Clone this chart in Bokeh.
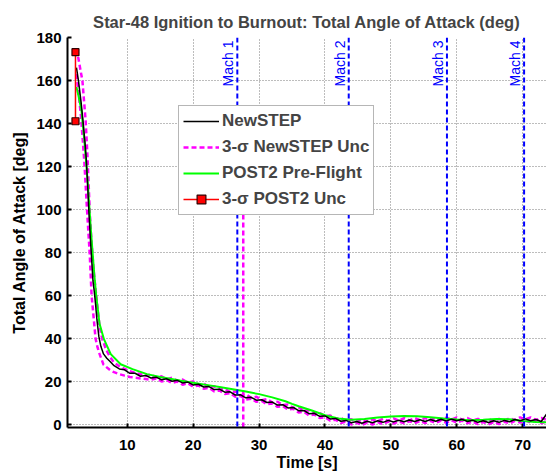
import math
from bokeh.plotting import figure
from bokeh.models import Range1d, Label, Legend, LegendItem, FixedTicker, Span
from bokeh.embed import file_html
from bokeh.resources import INLINE

FONT = "Liberation Sans"

# ---------------- data ----------------
x_ticks = [10, 20, 30, 40, 50, 60, 70]
y_ticks = [0, 20, 40, 60, 80, 100, 120, 140, 160, 180]

# shared sample times for the slow part of the flight
t_late = [8.0, 8.8, 9.6, 10.4, 11.2, 12.0, 12.8, 13.6, 14.4, 15.2,
          16.0, 16.8, 17.6, 18.4, 19.2, 20.0, 20.8, 21.6, 22.4, 23.2,
          24.0, 24.8, 25.6, 26.4, 27.2, 28.0, 28.8, 29.6, 30.4, 31.2,
          32.0, 32.8, 33.6, 34.4, 35.2, 36.0, 36.8, 37.6, 38.4, 39.2,
          40.0, 40.8, 41.6, 42.4, 43.2, 44.0, 44.8, 45.6, 46.4, 47.2,
          48.0, 48.8, 49.6, 50.4, 51.2, 52.0, 52.8, 53.6, 54.4, 55.2,
          56.0, 56.8, 57.6, 58.4, 59.2, 60.0, 60.8, 61.6, 62.4, 63.2,
          64.0, 64.8, 65.6, 66.4, 67.2, 68.0, 68.8, 69.6, 70.4, 71.2,
          72.0, 72.8, 73.6]

# NewSTEP nominal
ns_t_early = [2.3, 2.6, 3.0, 3.3, 3.6, 3.8, 4.0, 4.2, 4.4, 4.6, 4.8, 5.0,
              5.2, 5.4, 5.7, 6.0, 6.4, 6.9, 7.4]
ns_a_early = [166, 160, 150, 141, 131, 123, 111, 98, 87, 77, 67, 62,
              56, 49, 41, 36.5, 33, 31, 29.5]
ns_a_late = [27.5, 26.0, 25.6, 24.0, 24.0, 22.6, 23.0, 21.8, 22.2, 21.0,
             21.4, 20.3, 20.7, 19.5, 19.9, 18.6, 18.9, 17.6, 17.8, 16.4,
             16.6, 15.2, 15.4, 13.9, 14.0, 12.6, 12.8, 11.5, 11.7, 10.4,
             10.6, 9.2, 9.4, 7.9, 8.1, 6.6, 6.7, 5.2, 5.4, 4.0,
             4.2, 2.8, 3.0, 1.7, 2.1, 1.0, 1.6, 0.8, 1.7, 1.0,
             1.9, 1.2, 2.1, 1.4, 2.2, 1.5, 2.3, 1.6, 2.4, 1.6,
             2.5, 1.7, 2.6, 1.8, 2.7, 1.9, 2.6, 1.6, 2.2, 1.2,
             1.9, 1.1, 1.9, 1.2, 2.1, 1.5, 2.5, 1.9, 2.8, 1.9,
             2.5, 1.6, 5.0]

# NewSTEP 3-sigma upper / lower bounds
up_t_early = [2.55, 2.9, 3.2, 3.7, 4.0, 4.33, 4.6, 4.9, 5.2, 5.5, 5.8, 6.2, 6.8, 7.4]
up_a_early = [171, 165, 160, 141, 123, 98, 84, 72, 63, 54, 46, 40, 35, 31.5]
up_a_late = [29.0, 27.3, 26.0, 25.0, 24.2, 23.6, 22.8, 23.4, 22.0, 22.6,
             21.2, 21.9, 20.5, 21.1, 19.7, 20.2, 18.7, 19.2, 17.6, 18.0,
             16.4, 16.8, 15.2, 15.5, 13.8, 14.2, 12.6, 13.1, 11.5, 12.0,
             10.4, 10.8, 9.2, 9.5, 7.9, 8.2, 6.5, 6.8, 5.2, 5.6,
             4.0, 4.4, 2.8, 3.3, 1.9, 2.6, 1.4, 2.4, 1.5, 2.6,
             1.7, 2.8, 1.9, 3.0, 2.0, 3.1, 2.1, 3.2, 2.2, 3.2,
             2.3, 3.3, 2.4, 3.4, 2.5, 3.5, 2.4, 3.2, 2.0, 2.8,
             1.7, 2.7, 1.7, 2.8, 1.9, 3.1, 2.3, 3.5, 2.6, 3.5,
             2.3, 3.2, 2.4]
lo_t_early = [2.3, 2.6, 3.0, 3.5, 3.9, 4.3, 4.6, 4.9, 5.2, 5.5, 5.8, 6.4, 7.5]
lo_a_early = [163, 155, 143, 122, 100, 80, 60, 50, 40, 36, 33, 28.0, 25.2]
lo_a_late = [24.5, 23.6, 22.9, 22.3, 21.9, 21.6, 21.3, 21.0, 21.6, 20.2,
             20.8, 19.5, 20.1, 18.7, 19.3, 17.8, 18.3, 16.8, 17.2, 15.6,
             16.0, 14.4, 14.8, 13.1, 13.4, 11.8, 12.2, 10.7, 11.1, 9.6,
             10.0, 8.4, 8.8, 7.1, 7.5, 5.8, 6.1, 4.4, 4.8, 3.2,
             3.6, 2.0, 2.4, 0.9, 1.5, 0.2, 1.0, 0.0, 1.1, 0.2,
             1.3, 0.4, 1.5, 0.6, 1.6, 0.7, 1.7, 0.8, 1.8, 0.8,
             1.9, 0.9, 2.0, 1.0, 2.1, 1.1, 2.0, 0.8, 1.6, 0.4,
             1.3, 0.3, 1.3, 0.4, 1.5, 0.7, 1.9, 1.1, 2.2, 1.1,
             1.9, 0.8, 1.6]

# POST2 pre-flight prediction
post_t = [2.3, 2.6, 3.06, 3.5, 4.0, 4.5, 5.0, 5.3, 5.8, 6.45, 7.5, 9.0, 10.8,
          13.0, 15.0, 18.0, 20.0, 22.0, 24.0, 26.0, 28.0, 30.0, 32.0, 34.0,
          35.0, 36.0, 38.0, 40.0, 42.0, 44.0, 46.0, 48.0, 50.0, 52.0, 54.0,
          56.0, 58.0, 60.0, 62.0, 64.0, 66.0, 68.0, 70.0, 72.0, 73.6]
post_a = [157, 153, 146, 132, 113, 90, 70, 60, 47, 40, 32.9, 28.2, 25.9,
          23.6, 22.3, 20.6, 19.6, 18.6, 17.6, 16.6, 15.5, 14.3, 12.8, 11.0,
          9.8, 8.7, 6.7, 4.5, 3.0, 2.4, 2.8, 3.4, 3.9, 4.1, 4.0,
          3.6, 3.0, 2.5, 2.2, 2.4, 2.8, 2.6, 1.8, 1.3, 1.2]

# POST2 3-sigma uncertainty at ignition
post_unc_t = [2.15, 2.15]
post_unc_a = [173.2, 141.1]

# Mach-number crossing times
mach_t = [26.7, 43.6, 58.5, 70.2]
mach_labels = ["Mach 1", "Mach 2", "Mach 3", "Mach 4"]

# NewSTEP Mach 1 uncertainty marker
unc_mach_t = [27.6, 27.6]
unc_mach_a = [-1.2, 120]

# ---------------- figure ----------------
p = figure(width=546, height=476, output_backend="svg", toolbar_location=None,
           x_range=Range1d(0.94, 73.6), y_range=Range1d(-1.2, 180),
           min_border_left=67, min_border_right=0, min_border_top=37,
           min_border_bottom=49)
p.background_fill_color = "white"
p.border_fill_color = "white"
p.outline_line_color = None

p.title.text = "Star-48 Ignition to Burnout: Total Angle of Attack (deg)"
p.title.text_font = FONT
p.title.text_font_size = "16.5px"
p.title.text_font_style = "bold"
p.title.align = "center"
p.title.standoff = 14

for ax, ticks in ((p.xaxis[0], x_ticks), (p.yaxis[0], y_ticks)):
    ax.ticker = FixedTicker(ticks=ticks)
    ax.major_label_text_font = FONT
    ax.major_label_text_font_size = "15px"
    ax.major_label_text_font_style = "bold"
    ax.major_label_text_color = "black"
    ax.axis_label_text_font = FONT
    ax.axis_label_text_font_size = "16px"
    ax.axis_label_text_font_style = "bold"
    ax.axis_label_text_color = "black"
    ax.axis_line_width = 2
    ax.axis_line_color = "black"
    ax.major_tick_line_width = 2
    ax.major_tick_line_color = "black"
    ax.major_tick_in = 4
    ax.major_tick_out = 0
    ax.minor_tick_line_color = None

p.xaxis.axis_label = "Time [s]"
p.yaxis.axis_label = "Total Angle of Attack [deg]"
p.xaxis.major_label_standoff = 12
p.xaxis.axis_label_standoff = 1
p.yaxis.major_label_standoff = 6
p.yaxis.axis_label_standoff = 5

for g in (p.xgrid[0], p.ygrid[0]):
    g.ticker = FixedTicker(ticks=x_ticks if g is p.xgrid[0] else y_ticks)
    g.grid_line_color = "#7a7a7a"
    g.grid_line_dash = "1 2"
    g.grid_line_width = 1

# Mach lines
for t in mach_t:
    p.add_layout(Span(location=t, dimension="height", line_color="#0000ff",
                      line_dash="5 3", line_width=2))

p.line(unc_mach_t, unc_mach_a, line_color="#ff00ff", line_dash="5 3", line_width=2.5)

# series
r_up = p.line(up_t_early + t_late, up_a_early + up_a_late, line_color="#ff00ff",
              line_dash="5 3", line_width=2.5)
r_lo = p.line(lo_t_early + t_late, lo_a_early + lo_a_late, line_color="#ff00ff",
              line_dash="5 3", line_width=2.5)
r_post = p.line(post_t, post_a, line_color="#00ff00", line_width=2)
r_ns = p.line(ns_t_early + t_late, ns_a_early + ns_a_late, line_color="black",
              line_width=1.5)
r_unc_l = p.line(post_unc_t, post_unc_a, line_color="#ff0000", line_width=1.5)
r_unc_m = p.scatter(post_unc_t, post_unc_a, marker="square", size=7,
                    fill_color="#ff0000", line_color="#300000", line_width=1.2)

for t, lab in zip(mach_t, mach_labels):
    p.add_layout(Label(x=t, y=178.6, text=lab, angle=math.pi / 2,
                       text_align="right", text_baseline="bottom",
                       text_font=FONT, text_font_size="14px",
                       text_color="#0000ff", x_offset=-1))

legend = Legend(items=[
    LegendItem(label="NewSTEP", renderers=[r_ns]),
    LegendItem(label="3-\u03c3 NewSTEP Unc", renderers=[r_up]),
    LegendItem(label="POST2 Pre-Flight", renderers=[r_post]),
    LegendItem(label="3-\u03c3 POST2 Unc", renderers=[r_unc_l, r_unc_m]),
], location=(111, 212))
legend.label_text_font = FONT
legend.label_text_font_size = "17px"
legend.label_text_font_style = "bold"
legend.label_text_baseline = "middle"
legend.label_height = 22
legend.glyph_height = 22
legend.glyph_width = 36
legend.label_standoff = 3
legend.spacing = 4
legend.padding = 4
legend.margin = 0
legend.border_line_color = "#6e6e6e"
legend.border_line_width = 1
legend.background_fill_color = "white"
legend.background_fill_alpha = 1
p.add_layout(legend)

open("out.html", "w").write(file_html(p, INLINE))
